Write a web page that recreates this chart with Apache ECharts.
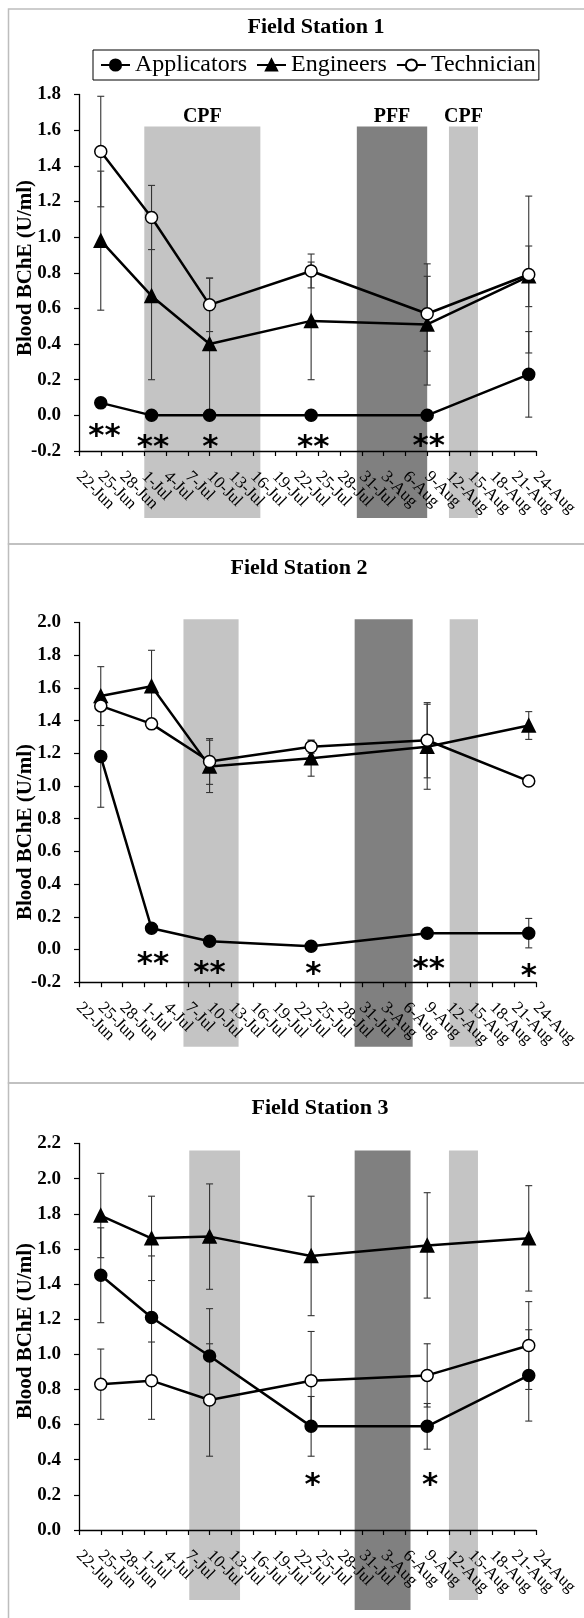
<!DOCTYPE html>
<html>
<head>
<meta charset="utf-8">
<script src="https://cdn.jsdelivr.net/npm/echarts@6/dist/echarts.min.js"></script>
<style>
  html, body { margin: 0; padding: 0; background: #fff; }
  #chart { width: 584px; height: 1618px; }
</style>
</head>
<body>
<div id="chart"></div>
<script>
// sampling days, counted from 22-Jun (25-Jun, 2-Jul, 10-Jul, 24-Jul, 9-Aug, 23-Aug)
const sampleDays = [3, 10, 18, 32, 48, 62];
// date ticks every 3 days from 22-Jun to 24-Aug
const tickLabels = ['22-Jun', '25-Jun', '28-Jun', '1-Jul', '4-Jul', '7-Jul', '10-Jul', '13-Jul',
  '16-Jul', '19-Jul', '22-Jul', '25-Jul', '28-Jul', '31-Jul', '3-Aug', '6-Aug', '9-Aug',
  '12-Aug', '15-Aug', '18-Aug', '21-Aug', '24-Aug'];
const groups = ['Applicators', 'Engineers', 'Technician'];

// Field Station 1
const fs1Applicators = [0.07, 0.00, 0.00, 0.00, 0.00, 0.23];
const fs1Engineers = [0.98, 0.67, 0.40, 0.53, 0.51, 0.78];
const fs1Technician = [1.48, 1.11, 0.62, 0.81, 0.57, 0.79];
const fs1ApplicatorsErr = [0, 0, 0, 0, 0, 0.24];
const fs1EngineersErr = [0.39, 0.47, 0.37, 0.33, 0.34, 0.17];
const fs1TechnicianErr = [0.31, 0.18, 0.15, 0.095, 0.21, 0.44];
// [start day, end day, top value, spray type]
const fs1Bands = [[9, 25, 1.62, 'CPF'], [38.3, 48, 1.62, 'PFF'], [51, 55, 1.62, 'CPF']];
const fs1Stars = [[3.5, -0.08, '**'], [10.2, -0.145, '**'], [18.1, -0.145, '*'], [32.3, -0.145, '**'], [48.2, -0.14, '**']];

// Field Station 2
const fs2Applicators = [1.18, 0.13, 0.05, 0.02, 0.10, 0.10];
const fs2Engineers = [1.55, 1.61, 1.12, 1.17, 1.24, 1.37];
const fs2Technician = [1.49, 1.38, 1.15, 1.24, 1.28, 1.03];
const fs2ApplicatorsErr = [0.31, 0, 0, 0, 0, 0.09];
const fs2EngineersErr = [0.18, 0.22, 0.16, 0.11, 0.26, 0.085];
const fs2TechnicianErr = [0, 0, 0.14, 0.04, 0.23, 0];
const fs2Bands = [[14.4, 22, 2.02, 'CPF'], [38, 46, 2.02, 'PFF'], [51.1, 55, 2.02, 'CPF']];
const fs2Stars = [[10.2, -0.05, '**'], [18.0, -0.105, '**'], [32.3, -0.115, '*'], [48.2, -0.08, '**'], [62.0, -0.125, '*']];

// Field Station 3
const fs3Applicators = [1.45, 1.21, 0.99, 0.59, 0.59, 0.88];
const fs3Engineers = [1.79, 1.66, 1.67, 1.56, 1.62, 1.66];
const fs3Technician = [0.83, 0.85, 0.74, 0.85, 0.88, 1.05];
const fs3ApplicatorsErr = [0.27, 0.35, 0.27, 0.17, 0.13, 0.26];
const fs3EngineersErr = [0.24, 0.24, 0.30, 0.34, 0.30, 0.30];
const fs3TechnicianErr = [0.20, 0.22, 0.32, 0.28, 0.18, 0.25];
const fs3Bands = [[15.2, 22.2, 2.16, 'CPF'], [38, 45.7, 2.16, 'PFF'], [51, 55, 2.16, 'CPF']];
const fs3Stars = [[32.2, 0.29, '*'], [48.4, 0.29, '*']];

const panels = [
  { title: 'Field Station 1', series: [fs1Applicators, fs1Engineers, fs1Technician],
    errors: [fs1ApplicatorsErr, fs1EngineersErr, fs1TechnicianErr], bands: fs1Bands, stars: fs1Stars,
    min: -0.2, max: 1.8, bandLabels: true,
    top: 94.5, height: 356.5, titleX: 316, titleY: 16, nameY: 268, frameY: 9, frameH: 535, drop: { CPF: 67, PFF: 67 } },
  { title: 'Field Station 2', series: [fs2Applicators, fs2Engineers, fs2Technician],
    errors: [fs2ApplicatorsErr, fs2EngineersErr, fs2TechnicianErr], bands: fs2Bands, stars: fs2Stars,
    min: -0.2, max: 2.0, bandLabels: false,
    top: 622.5, height: 359.7, titleX: 299, titleY: 557, nameY: 832, frameY: 544, frameH: 539, drop: { CPF: 64.5, PFF: 64.5 } },
  { title: 'Field Station 3', series: [fs3Applicators, fs3Engineers, fs3Technician],
    errors: [fs3ApplicatorsErr, fs3EngineersErr, fs3TechnicianErr], bands: fs3Bands, stars: fs3Stars,
    min: 0, max: 2.2, bandLabels: false,
    top: 1143.5, height: 386.5, titleX: 320, titleY: 1097, nameY: 1331, frameY: 1083, frameH: 700, drop: { CPF: 70, PFF: 80 } }
];

const SERIF = '"Liberation Serif", "DejaVu Serif", serif';
const bandColor = { CPF: '#c4c4c4', PFF: '#808080' };
const markers = [
  { symbol: 'circle', size: 12, fill: '#000' },
  { symbol: 'triangle', size: 13, fill: '#000' },
  { symbol: 'circle', size: 12, fill: '#fff' }
];

const chart = echarts.init(document.getElementById('chart'), null, { renderer: 'canvas' });

const grid = [], xAxis = [], yAxis = [], series = [], title = [], graphic = [];

panels.forEach((p, i) => {
  grid.push({ left: 79, width: 457, top: p.top, height: p.height, containLabel: false, outerBoundsMode: 'none' });

  // visible date axis (one tick per 3 days)
  xAxis.push({
    gridIndex: i, type: 'category', data: tickLabels, boundaryGap: false, position: 'bottom',
    axisLine: { show: true, onZero: false, lineStyle: { color: '#000', width: 1.3 } },
    axisTick: { show: true, interval: 0, length: 5, lineStyle: { color: '#000', width: 1.2 } },
    splitLine: { show: false },
    axisLabel: {
      interval: 0, rotate: -45, margin: 23, fontFamily: SERIF, fontSize: 17, color: '#000',
      hideOverlap: false
    }
  });
  // hidden day axis used to place the data
  xAxis.push({
    gridIndex: i, type: 'value', min: 0, max: 63, show: false, position: 'top',
    splitLine: { show: false }
  });

  yAxis.push({
    gridIndex: i, type: 'value', min: p.min, max: p.max, interval: 0.2,
    axisLine: { show: true, onZero: false, lineStyle: { color: '#000', width: 1.3 } },
    axisTick: { show: true, length: 5, lineStyle: { color: '#000', width: 1.2 } },
    splitLine: { show: false },
    axisLabel: {
      margin: 18, fontFamily: SERIF, fontWeight: 'bold', fontSize: 19, color: '#000',
      showMinLabel: true, showMaxLabel: true,
      formatter: v => (Math.abs(v) < 1e-9 ? 0 : v).toFixed(1)
    }
  });

  title.push({
    text: p.title, left: p.titleX, top: p.titleY, textAlign: 'center', padding: 0,
    textStyle: { fontFamily: SERIF, fontWeight: 'bold', fontSize: 22, color: '#000' }
  });

  graphic.push({
    type: 'rect', silent: true, z: -10,
    shape: { x: 8.5, y: p.frameY, width: 700, height: p.frameH },
    style: { fill: 'none', stroke: '#bdbdbd', lineWidth: 1.5 }
  });
  graphic.push({
    type: 'text', silent: true, x: 26, y: p.nameY, rotation: Math.PI / 2,
    style: {
      text: 'Blood BChE (U/ml)', font: 'bold 21px ' + SERIF, fill: '#000',
      align: 'center', verticalAlign: 'middle'
    }
  });

  const xi = 2 * i + 1;

  // spray periods
  series.push({
    type: 'custom', xAxisIndex: xi, yAxisIndex: i, z: -1, silent: true, clip: false,
    encode: { x: [0, 1], y: 2 },
    data: p.bands.map(b => [b[0], b[1], b[2]]),
    renderItem: (params, api) => {
      const b = p.bands[params.dataIndex];
      const tl = api.coord([api.value(0), api.value(2)]);
      const br = api.coord([api.value(1), p.min]);
      const children = [{
        type: 'rect',
        shape: { x: tl[0], y: tl[1], width: br[0] - tl[0], height: br[1] - tl[1] + p.drop[b[3]] },
        style: { fill: bandColor[b[3]] }
      }];
      if (p.bandLabels) {
        children.push({
          type: 'text',
          style: {
            text: b[3], x: (tl[0] + br[0]) / 2, y: tl[1] - 10, font: 'bold 20px ' + SERIF,
            fill: '#000', align: 'center', verticalAlign: 'middle'
          }
        });
      }
      return { type: 'group', children };
    }
  });

  // error bars
  const errData = [];
  p.series.forEach((vals, g) => {
    vals.forEach((v, k) => {
      if (p.errors[g][k] > 0) errData.push([sampleDays[k], v, p.errors[g][k]]);
    });
  });
  series.push({
    type: 'custom', xAxisIndex: xi, yAxisIndex: i, z: 2, silent: true, clip: false,
    encode: { x: 0, y: 1 },
    data: errData,
    renderItem: (params, api) => {
      const x = api.value(0), v = api.value(1), e = api.value(2);
      const hi = api.coord([x, v + e]);
      const lo = api.coord([x, Math.max(v - e, p.min)]);
      const st = { stroke: '#333', lineWidth: 1.1 };
      return {
        type: 'group', children: [
          { type: 'line', shape: { x1: hi[0], y1: hi[1], x2: lo[0], y2: lo[1] }, style: st },
          { type: 'line', shape: { x1: hi[0] - 3.5, y1: hi[1], x2: hi[0] + 3.5, y2: hi[1] }, style: st },
          { type: 'line', shape: { x1: lo[0] - 3.5, y1: lo[1], x2: lo[0] + 3.5, y2: lo[1] }, style: st }
        ]
      };
    }
  });

  // group means
  p.series.forEach((vals, g) => {
    series.push({
      name: groups[g], type: 'line', xAxisIndex: xi, yAxisIndex: i, z: 3,
      data: vals.map((v, k) => [sampleDays[k], v]),
      symbol: markers[g].symbol, symbolSize: markers[g].size,
      lineStyle: { color: '#000', width: 2.5 },
      itemStyle: { color: markers[g].fill, borderColor: '#000', borderWidth: 1.5, opacity: 1 },
      emphasis: { disabled: true },
      clip: false
    });
  });

  // significance marks
  series.push({
    type: 'custom', xAxisIndex: xi, yAxisIndex: i, z: 4, silent: true, clip: false,
    encode: { x: 0, y: 1 },
    data: p.stars.map(s => [s[0], s[1]]),
    renderItem: (params, api) => {
      const c = api.coord([api.value(0), api.value(1)]);
      return {
        type: 'text',
        style: {
          text: p.stars[params.dataIndex][2], x: c[0], y: c[1] + 7,
          font: 'bold 31px "DejaVu Sans", sans-serif', fill: '#000', align: 'center', verticalAlign: 'middle'
        }
      };
    }
  });
});

chart.setOption({
  animation: false,
  backgroundColor: '#fff',
  title,
  legend: {
    data: groups, left: 93, top: 50, orient: 'horizontal',
    borderColor: '#000', borderWidth: 1, padding: [3, 3, 3, 7],
    itemWidth: 29, itemHeight: 14, itemGap: 9, selectedMode: false,
    textStyle: { fontFamily: SERIF, fontSize: 24, color: '#000' }
  },
  grid, xAxis, yAxis, series, graphic
});
</script>
</body>
</html>
